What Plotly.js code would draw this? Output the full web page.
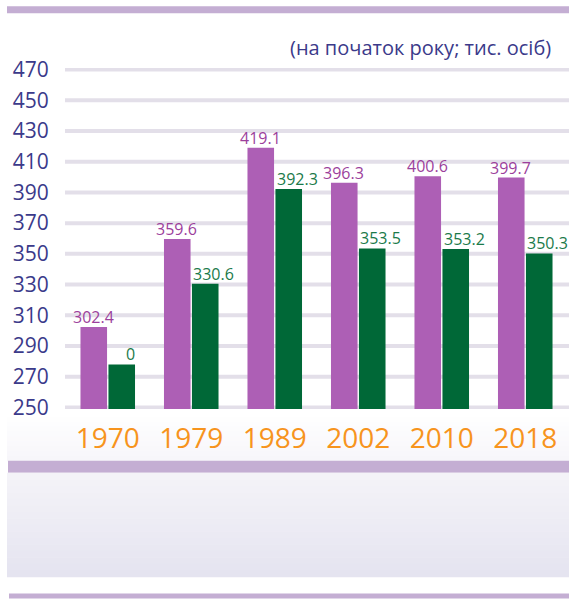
<!DOCTYPE html>
<html>
<head>
<meta charset="utf-8">
<script src="https://cdn.plot.ly/plotly-3.0.1.min.js"></script>
<style>html,body{margin:0;padding:0;background:#fff;}#chart{width:569px;height:599px;}</style>
</head>
<body>
<div id="chart"></div>
<script>
// ---- data ----
var years = ['1970', '1979', '1989', '2002', '2010', '2018'];
var seriesA = [302.4, 359.6, 419.1, 396.3, 400.6, 399.7];
var seriesB = [278.0, 330.6, 392.3, 353.5, 353.2, 350.3];
var labelsA = ['302.4', '359.6', '419.1', '396.3', '400.6', '399.7'];
var labelsB = ['0', '330.6', '392.3', '353.5', '353.2', '350.3'];
var yTicks = [250, 270, 290, 310, 330, 350, 370, 390, 410, 430, 450, 470];
var unitNote = '(на початок року; тис. осіб)';

// ---- geometry helpers (pixel -> paper) ----
var W = 569, H = 599;
var L = 66, R = 567, T = 67.8, B = 409.2;
function px(x) { return (x - L) / (R - L); }
function py(y) { return (B - y) / (B - T); }

var FONT = '"Open Sans", "Noto Sans", sans-serif';
var purple = '#ad5fb5', green = '#006837';

var traces = [
  { type: 'bar', x: years, y: seriesA, marker: { color: purple }, hoverinfo: 'skip', name: 'A' },
  { type: 'bar', x: years, y: seriesB, marker: { color: green }, hoverinfo: 'skip', name: 'B' }
];

var annotations = [];
for (var i = 0; i < years.length; i++) {
  // category axis: annotation x is the category's serial index
  annotations.push({ x: i, y: seriesA[i], xref: 'x', yref: 'y', text: labelsA[i], showarrow: false,
    xanchor: 'center', yanchor: 'bottom', xshift: -14.5, yshift: -3,
    font: { family: FONT, size: 16, color: '#9c3f9c' } });
  annotations.push({ x: i, y: seriesB[i], xref: 'x', yref: 'y', text: labelsB[i], showarrow: false,
    xanchor: 'center', yanchor: 'bottom', xshift: 22.5, yshift: -3,
    font: { family: FONT, size: 16, color: '#1b7a4a' } });
}
annotations.push({ x: px(553), y: py(47), xref: 'paper', yref: 'paper', text: unitNote, showarrow: false,
  xanchor: 'right', yanchor: 'middle', font: { family: FONT, size: 20, color: '#3b3a8a' } });

var shapes = [];
function rect(x0, y0, x1, y1, color) {
  shapes.push({ type: 'rect', xref: 'paper', yref: 'paper', x0: px(x0), x1: px(x1), y0: py(y1), y1: py(y0),
    fillcolor: color, line: { width: 0 }, layer: 'below' });
}
function mix(c1, c2, t) {
  var r = Math.round(c1[0] + (c2[0] - c1[0]) * t);
  var g = Math.round(c1[1] + (c2[1] - c1[1]) * t);
  var b = Math.round(c1[2] + (c2[2] - c1[2]) * t);
  return 'rgb(' + r + ',' + g + ',' + b + ')';
}
function gradient(x0, y0, x1, y1, c1, c2, n) {
  var h = (y1 - y0) / n;
  for (var k = 0; k < n; k++) {
    rect(x0, y0 + k * h, x1, y0 + (k + 1) * h + 0.6, mix(c1, c2, (k + 0.5) / n));
  }
}
rect(7, 6, 569, 13, '#c4aed3');
gradient(7, 412, 569, 461, [255, 255, 255], [247, 246, 250], 10);
rect(8, 461, 569, 473, '#c4aed3');
gradient(7, 473, 569, 577, [244, 243, 248], [229, 227, 240], 16);
rect(9, 594, 569, 599, '#c4aed3');
// gridlines at each tick value (including the range ends)
yTicks.forEach(function (v) {
  shapes.push({ type: 'line', xref: 'paper', yref: 'y', x0: px(65), x1: px(569), y0: v, y1: v,
    line: { color: '#e3dfe9', width: 4 }, layer: 'below' });
});

var layout = {
  width: W, height: H,
  margin: { l: L, r: W - R, t: T, b: H - B, pad: 0 },
  paper_bgcolor: '#ffffff', plot_bgcolor: 'rgba(0,0,0,0)',
  showlegend: false,
  barmode: 'group', bargap: 0.33, bargroupgap: 0.05,
  font: { family: FONT },
  xaxis: {
    type: 'category', range: [-0.5, years.length - 0.5], autorange: false,
    showgrid: false, zeroline: false, showline: false,
    ticks: 'outside', ticklen: 4, tickcolor: 'rgba(0,0,0,0)',
    tickfont: { family: FONT, size: 28, color: '#f7941d' }
  },
  yaxis: {
    range: [249, 471], autorange: false, tickvals: yTicks, ticktext: yTicks.map(String),
    showgrid: false, zeroline: false, showline: false,
    ticks: 'outside', ticklen: 12, tickcolor: 'rgba(0,0,0,0)',
    tickfont: { family: FONT, size: 21, color: '#3b3a8a' }
  },
  annotations: annotations,
  shapes: shapes
};

Plotly.newPlot('chart', traces, layout, { displayModeBar: false, staticPlot: true });
</script>
</body>
</html>
